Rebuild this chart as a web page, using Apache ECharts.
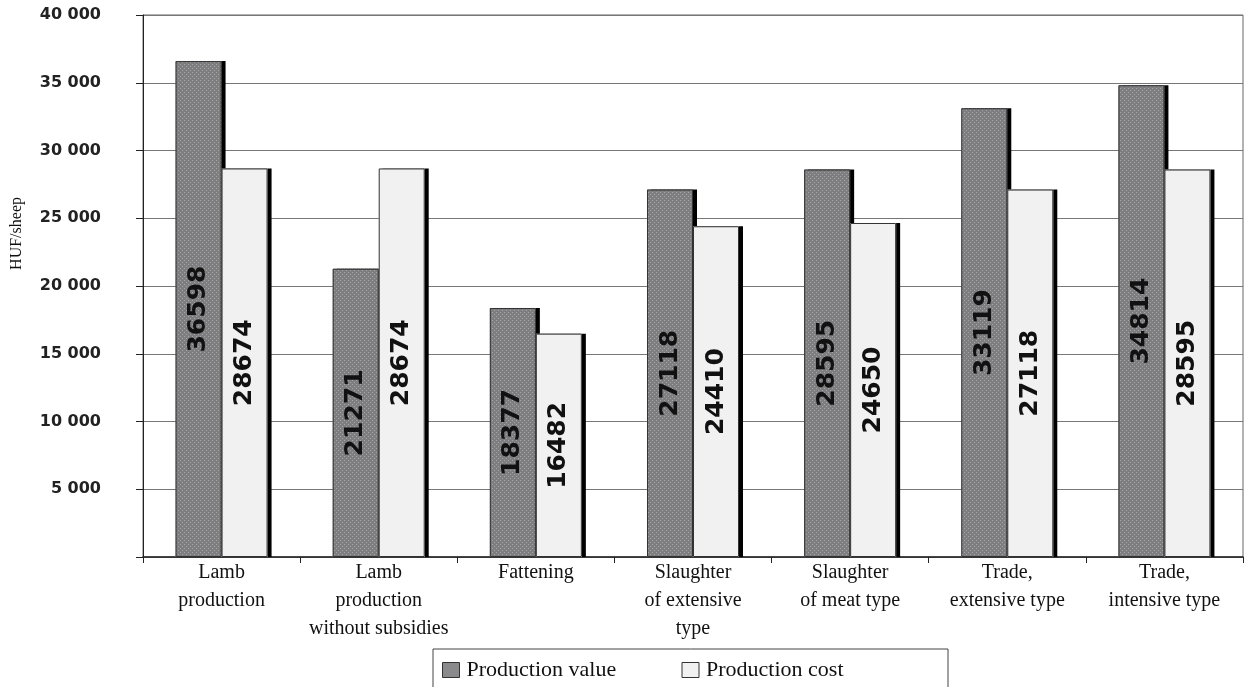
<!DOCTYPE html>
<html><head><meta charset="utf-8">
<script src="https://cdn.jsdelivr.net/npm/echarts@6/dist/echarts.min.js"></script>
<style>html,body{margin:0;padding:0;background:#fff}#c{width:1245px;height:687px}</style>
</head><body><div id="c"></div>
<script>
const categories = ['Lamb\nproduction', 'Lamb\nproduction\nwithout subsidies', 'Fattening', 'Slaughter\nof extensive\ntype', 'Slaughter\nof meat type', 'Trade,\nextensive type', 'Trade,\nintensive type'];
const productionValue = [36598, 21271, 18377, 27118, 28595, 33119, 34814];
const productionCost = [28674, 28674, 16482, 24410, 24650, 27118, 28595];
const yTicks = [0, 5000, 10000, 15000, 20000, 25000, 30000, 35000, 40000];

function dotPattern() {
  const c = document.createElement('canvas');
  c.width = 4; c.height = 4;
  const g = c.getContext('2d');
  g.fillStyle = '#7e7e80'; g.fillRect(0, 0, 4, 4);
  g.fillStyle = '#a6a6a8'; g.fillRect(0, 0, 1, 1); g.fillRect(2, 2, 1, 1);
  return c;
}
const pat = { image: dotPattern(), repeat: 'repeat' };

const chart = echarts.init(document.getElementById('c'));
const labelStyle = {
  show: true, position: 'inside', rotate: 90,
  fontFamily: 'DejaVu Sans', fontWeight: 'bold', fontSize: 25, color: '#111',
  formatter: p => String(p.value)
};
const shadowStyle = { borderWidth: 0, shadowColor: '#000', shadowOffsetX: 4, shadowOffsetY: 0, shadowBlur: 0 };
const xLabel = { fontFamily: 'Liberation Serif', fontSize: 20, color: '#111', lineHeight: 28, margin: 2, interval: 0 };
chart.setOption({
  animation: false,
  backgroundColor: '#fff',
  grid: { left: 143, right: 2, top: 15, bottom: 130, show: true, borderColor: '#666', borderWidth: 1 },
  legend: {
    left: 433, top: 649,
    padding: [10, 93, 20, 9],
    borderColor: '#444', borderWidth: 1,
    itemWidth: 17, itemHeight: 15, itemGap: 53, icon: 'rect',
    textStyle: { fontFamily: 'Liberation Serif', fontSize: 22, lineHeight: 22, color: '#111', padding: [0, 0, 0, 2] },
    data: [
      { name: 'Production value', itemStyle: { color: '#8a8a8c', borderColor: '#333', borderWidth: 1 }, textStyle: { width: 162 } },
      { name: 'Production cost', itemStyle: { color: '#f0f1f0', borderColor: '#333', borderWidth: 1 }, textStyle: { width: 149 } }
    ]
  },
  graphic: [{
    type: 'text', left: 9, top: 197, rotation: Math.PI / 2,
    style: { text: 'HUF/sheep', font: '16px "Liberation Serif"', fill: '#111' }
  }],
  xAxis: [{
    type: 'category', data: categories,
    axisLine: { lineStyle: { color: '#222', width: 1.5 } },
    axisTick: { show: true, length: 6, lineStyle: { color: '#222' } },
    axisLabel: xLabel
  }, {
    type: 'category', data: categories, position: 'bottom', show: false
  }],
  yAxis: {
    type: 'value', min: 0, max: 40000, interval: 5000,
    axisLine: { show: true, lineStyle: { color: '#222' } },
    axisTick: { show: true, length: 7, lineStyle: { color: '#222' } },
    splitLine: { lineStyle: { color: '#777', width: 1 } },
    axisLabel: {
      fontFamily: 'DejaVu Sans', fontWeight: 'bold', fontSize: 16, color: '#222', margin: 42,
      align: 'right',
      formatter: v => v === 0 ? '' : String(v).replace(/\B(?=(\d{3})+(?!\d))/g, ' ')
    }
  },
  series: [
    {
      name: 'Production value', type: 'bar', data: productionValue, barWidth: 46, barGap: '0%', xAxisIndex: 0, z: 2,
      itemStyle: Object.assign({ color: pat }, shadowStyle),
      label: Object.assign({}, labelStyle)
    },
    {
      name: 'Production cost', type: 'bar', data: productionCost, barWidth: 46, barGap: '0%', xAxisIndex: 0, z: 2,
      itemStyle: Object.assign({ color: '#f0f1f0' }, shadowStyle),
      label: Object.assign({}, labelStyle)
    },
    {
      name: 'Production value', type: 'bar', data: productionValue, barWidth: 46, barGap: '0%', xAxisIndex: 1, z: 3,
      itemStyle: { color: 'rgba(0,0,0,0)', borderColor: '#333', borderWidth: 1 }, silent: true
    },
    {
      name: 'Production cost', type: 'bar', data: productionCost, barWidth: 46, barGap: '0%', xAxisIndex: 1, z: 3,
      itemStyle: { color: 'rgba(0,0,0,0)', borderColor: '#333', borderWidth: 1 }, silent: true
    }
  ]
});
</script></body></html>
